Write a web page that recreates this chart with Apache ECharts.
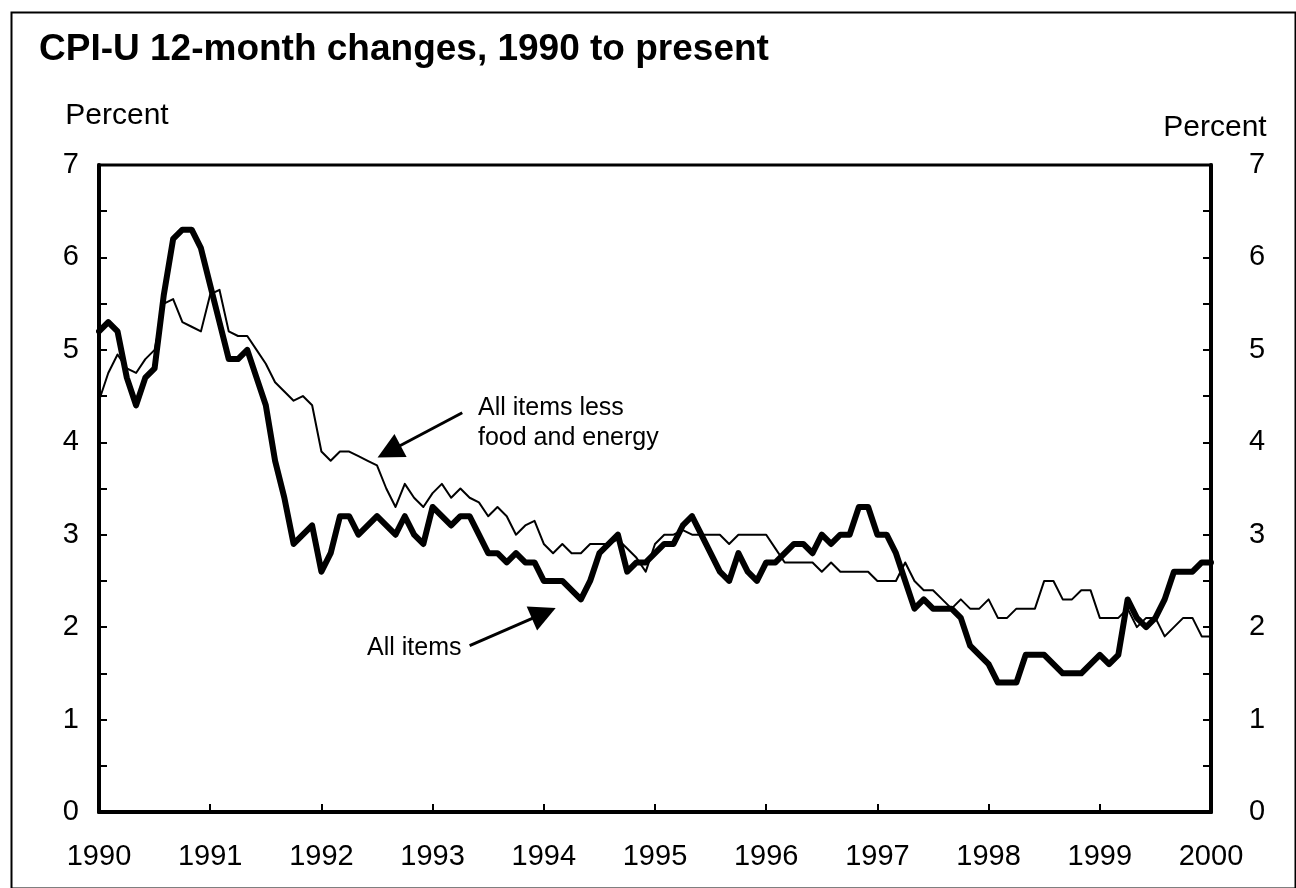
<!DOCTYPE html>
<html>
<head>
<meta charset="utf-8">
<script src="https://cdn.jsdelivr.net/npm/echarts@6/dist/echarts.min.js"></script>
<style>
	html,body{margin:0;padding:0;background:#fff;}
	#chart{width:1296px;height:888px;}
</style>
</head>
<body>
<div id="chart"></div>
<script>
// monthly, Jan 1990 .. Jan 2000
var yearLabels = ['1990','1991','1992','1993','1994','1995','1996','1997','1998','1999','2000'];
var allItems = [
	5.2, 5.3, 5.2, 4.7, 4.4, 4.7, 4.8, 5.6, 6.2, 6.3, 6.3, 6.1,
	5.7, 5.3, 4.9, 4.9, 5.0, 4.7, 4.4, 3.8, 3.4, 2.9, 3.0, 3.1,
	2.6, 2.8, 3.2, 3.2, 3.0, 3.1, 3.2, 3.1, 3.0, 3.2, 3.0, 2.9,
	3.3, 3.2, 3.1, 3.2, 3.2, 3.0, 2.8, 2.8, 2.7, 2.8, 2.7, 2.7,
	2.5, 2.5, 2.5, 2.4, 2.3, 2.5, 2.8, 2.9, 3.0, 2.6, 2.7, 2.7,
	2.8, 2.9, 2.9, 3.1, 3.2, 3.0, 2.8, 2.6, 2.5, 2.8, 2.6, 2.5,
	2.7, 2.7, 2.8, 2.9, 2.9, 2.8, 3.0, 2.9, 3.0, 3.0, 3.3, 3.3,
	3.0, 3.0, 2.8, 2.5, 2.2, 2.3, 2.2, 2.2, 2.2, 2.1, 1.8, 1.7,
	1.6, 1.4, 1.4, 1.4, 1.7, 1.7, 1.7, 1.6, 1.5, 1.5, 1.5, 1.6,
	1.7, 1.6, 1.7, 2.3, 2.1, 2.0, 2.1, 2.3, 2.6, 2.6, 2.6, 2.7,
	2.7
];
var coreItems = [
	4.45, 4.75, 4.95, 4.8, 4.75, 4.9, 5.0, 5.5, 5.55, 5.3, 5.25, 5.2,
	5.6, 5.65, 5.2, 5.15, 5.15, 5.0, 4.85, 4.65, 4.55, 4.45, 4.5, 4.4,
	3.9, 3.8, 3.9, 3.9, 3.85, 3.8, 3.75, 3.5, 3.3, 3.55, 3.4, 3.3,
	3.45, 3.55, 3.4, 3.5, 3.4, 3.35, 3.2, 3.3, 3.2, 3.0, 3.1, 3.15,
	2.9, 2.8, 2.9, 2.8, 2.8, 2.9, 2.9, 2.9, 2.95, 2.85, 2.75, 2.6,
	2.9, 3.0, 3.0, 3.05, 3.0, 3.0, 3.0, 3.0, 2.9, 3.0, 3.0, 3.0,
	3.0, 2.85, 2.7, 2.7, 2.7, 2.7, 2.6, 2.7, 2.6, 2.6, 2.6, 2.6,
	2.5, 2.5, 2.5, 2.7, 2.5, 2.4, 2.4, 2.3, 2.2, 2.3, 2.2, 2.2,
	2.3, 2.1, 2.1, 2.2, 2.2, 2.2, 2.5, 2.5, 2.3, 2.3, 2.4, 2.4,
	2.1, 2.1, 2.1, 2.2, 2.0, 2.1, 2.1, 1.9, 2.0, 2.1, 2.1, 1.9,
	1.9
];
// arrows: [tail, head] in [month index, percent]
var coreArrow = [[39.2, 4.32], [31.3, 3.90]];
var allArrow = [[40.0, 1.80], [48.0, 2.15]];

var FONT = 'Liberation Sans';

function toPairs(arr){
	return arr.map(function(v, i){ return [i, v]; });
}

var myChart = echarts.init(document.getElementById('chart'));
var yAxisBase = {
	type: 'value',
	min: 0,
	max: 7,
	interval: 1,
	name: 'Percent',
	nameLocation: 'end',
	nameTextStyle: {color: '#000', fontSize: 30, fontFamily: FONT},
	axisLine: {show: true, lineStyle: {color: '#000', width: 4}},
	axisTick: {show: true, inside: true, length: 8, lineStyle: {color: '#000', width: 2}},
	minorTick: {show: true, splitNumber: 2, length: 8, lineStyle: {color: '#000', width: 2}},
	axisLabel: {color: '#000', fontSize: 29, fontFamily: FONT},
	splitLine: {show: false},
	minorSplitLine: {show: false}
};
var leftAxis = echarts.util.merge(echarts.util.clone(yAxisBase), {
	position: 'left', nameGap: 34,
	nameTextStyle: {padding: [0, 0, 0, 36]},
	axisLabel: {margin: 20}
});
var rightAxis = echarts.util.merge(echarts.util.clone(yAxisBase), {
	position: 'right', nameGap: 22,
	nameTextStyle: {padding: [0, 0, 0, 8]},
	axisLabel: {margin: 38}
});

var option = {
	backgroundColor: '#fff',
	animation: false,
	title: {
		text: 'CPI-U 12-month changes, 1990 to present',
		left: 34,
		top: 26,
		textStyle: {color: '#000', fontSize: 37, fontWeight: 'bold', fontFamily: FONT}
	},
	grid: {
		left: 99, right: 85, top: 165, bottom: 76,
		show: true, borderColor: '#000', borderWidth: 3, backgroundColor: 'transparent'
	},
	xAxis: {
		type: 'value',
		min: 0,
		max: 120,
		interval: 12,
		axisLine: {show: true, onZero: false, lineStyle: {color: '#000', width: 4}},
		axisTick: {show: true, inside: true, length: 8, lineStyle: {color: '#000', width: 2}},
		axisLabel: {
			color: '#000', fontSize: 29, fontFamily: FONT, margin: 30,
			formatter: function(v){ return yearLabels[Math.round(v / 12)]; }
		},
		splitLine: {show: false}
	},
	yAxis: [leftAxis, rightAxis],
	graphic: [
		{type: 'rect', left: 9, top: 10, shape: {width: 1284, height: 876},
			style: {fill: 'none', stroke: '#000', lineWidth: 2}, silent: true},
		{type: 'text', left: 478, top: 393,
			style: {text: 'All items less\nfood and energy', fill: '#000', fontSize: 25, lineHeight: 30, fontFamily: FONT}},
		{type: 'text', left: 367, top: 636,
			style: {text: 'All items', fill: '#000', fontSize: 25, fontFamily: FONT}}
	],
	series: [
		{
			name: 'All items less food and energy',
			type: 'line',
			data: toPairs(coreItems),
			showSymbol: false,
			lineStyle: {color: '#000', width: 2, join: 'round'},
			markLine: {
				silent: true,
				symbol: ['none', 'triangle'],
				symbolSize: 26,
				lineStyle: {color: '#000', width: 3, type: 'solid'},
				label: {show: false},
				data: [[{coord: coreArrow[0]}, {coord: coreArrow[1]}]]
			}
		},
		{
			name: 'All items',
			type: 'line',
			data: toPairs(allItems),
			showSymbol: false,
			lineStyle: {color: '#000', width: 6, join: 'round', cap: 'round'},
			markLine: {
				silent: true,
				symbol: ['none', 'triangle'],
				symbolSize: 26,
				lineStyle: {color: '#000', width: 3, type: 'solid'},
				label: {show: false},
				data: [[{coord: allArrow[0]}, {coord: allArrow[1]}]]
			}
		}
	]
};
myChart.setOption(option);
</script>
</body>
</html>
